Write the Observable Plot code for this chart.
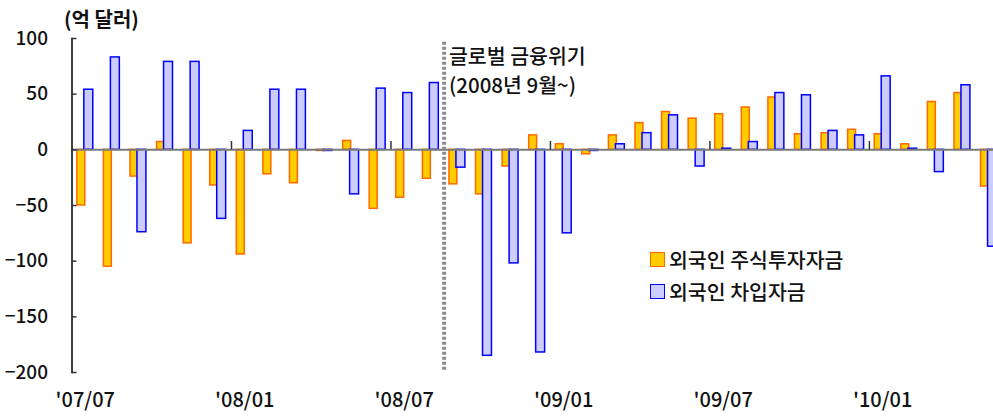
<!DOCTYPE html>
<html>
<head>
<meta charset="utf-8">
<script src="https://cdn.jsdelivr.net/npm/d3@7"></script>
<script src="https://cdn.jsdelivr.net/npm/@observablehq/plot@0.6"></script>
<style>
  html, body { margin: 0; padding: 0; background: #fff; overflow: hidden; }
  #wrap { position: relative; width: 993px; height: 416px; overflow: hidden;
          font-family: "Noto Sans CJK KR", "Noto Sans", sans-serif; color: #111; }
  #wrap svg { overflow: hidden; }
  .abs { position: absolute; white-space: nowrap; line-height: 1; }
  .sw { position: absolute; width: 13px; height: 13px; }
</style>
</head>
<body>
<div id="wrap"></div>
<script>
// Months (YY/MM)
const months = ["07/07","07/08","07/09","07/10","07/11","07/12",
  "08/01","08/02","08/03","08/04","08/05","08/06",
  "08/07","08/08","08/09","08/10","08/11","08/12",
  "09/01","09/02","09/03","09/04","09/05","09/06",
  "09/07","09/08","09/09","09/10","09/11","09/12",
  "10/01","10/02","10/03","10/04","10/05"];
// 외국인 주식투자자금 (억 달러)
const stock = [-50,-105,-24,7,-84,-32,
  -94,-22,-30,-1,8,-53,
  -43,-26,-31,-40,-15,13,
  5,-4,13,24,34,28,
  32,38,47,14,15,18,
  14,5,43,51,-33];
// 외국인 차입자금 (억 달러)
const borrow = [54,83,-74,79,79,-62,
  17,54,54,-1,-40,55,
  51,60,-16,-185,-102,-182,
  -75,-1,5,15,31,-15,
  1,7,51,49,17,13,
  66,1,-20,58,-87];
const yTicks = [100,50,0,-50,-100,-150,-200];
const xLabelMonths = ["07/07","08/01","08/07","09/01","09/07","10/01"];
const halfYearBounds = ["08/01","08/07","09/01","09/07","10/01"];
const crisisMonth = "08/09";
const seriesNames = ["외국인 주식투자자금","외국인 차입자금"];

const W = 993, H = 416;
const mL = 71.5, mR = -8.8;
const step = (W - mL - mR) / months.length;

const stockData = months.map((m,i)=>({month:m, value:stock[i]}));
const borrowData = months.map((m,i)=>({month:m, value:borrow[i]}));

const plot = Plot.plot({
  width: W, height: H,
  marginLeft: mL, marginRight: mR, marginTop: 38, marginBottom: 44,
  style: {fontFamily: '"Noto Sans CJK KR", "Noto Sans", sans-serif', fontSize: "18px", fontWeight: 500, color: "#111", overflow: "hidden"},
  x: {type: "band", domain: months, paddingInner: 0.4, paddingOuter: 0.2, align: 0.5, round: false, label: null},
  y: {domain: [-200, 100], label: null},
  marks: [
    Plot.barY(stockData, {x: "month", y: "value", fill: "#FFCC00", stroke: "#FF6A00", strokeWidth: 1.5, insetRight: 8}),
    Plot.barY(borrowData, {x: "month", y: "value", fill: "#CCCCFF", stroke: "#0000FF", strokeWidth: 1.5, insetLeft: 7}),
    Plot.ruleY([0], {stroke: "#7a7a7a", strokeWidth: 2}),
    Plot.ruleX(halfYearBounds, {x: d=>d, dx: -step/2, y1: 0, y2: 7.5, stroke: "#333", strokeWidth: 1.5}),
    Plot.ruleX([crisisMonth], {x: d=>d, dx: -step/2, y1: -198, y2: 97, stroke: "#8c8c8c", strokeWidth: 4, strokeDasharray: "3,2"}),
    Plot.frame({anchor: "left", stroke: "#000", strokeWidth: 1.5}),
    Plot.axisY({ticks: yTicks, tickSize: -5, tickPadding: 29, stroke: "#333", strokeWidth: 1.5, fontSize: 19, fill: "#111"}),
    Plot.axisX({ticks: xLabelMonths, tickSize: 0, tickPadding: 20, tickFormat: d => "'" + d, fontSize: 20, fill: "#111"})
  ]
});

const wrap = document.getElementById("wrap");
wrap.appendChild(plot);

function addText(txt, left, top, size, weight) {
  const d = document.createElement("div");
  d.className = "abs";
  d.textContent = txt;
  d.style.left = left + "px"; d.style.top = top + "px";
  d.style.fontSize = size + "px"; d.style.fontWeight = weight;
  wrap.appendChild(d);
}
addText("(억 달러)", 64, 9, 20, 700);
addText("글로벌 금융위기", 449, 45, 20.5, 500);
addText("(2008년 9월~)", 449, 74, 20.5, 500);

const legendColors = [["#FFCC00","#FF6A00"],["#CCCCFF","#0000FF"]];
seriesNames.forEach((name, i) => {
  const top = 252 + i * 32;
  const sw = document.createElement("div");
  sw.className = "sw";
  sw.style.left = "650px"; sw.style.top = top + "px";
  sw.style.background = legendColors[i][0];
  sw.style.border = "1.5px solid " + legendColors[i][1];
  wrap.appendChild(sw);
  addText(name, 669, top - 3, 20.5, 500);
});
</script>
</body>
</html>
